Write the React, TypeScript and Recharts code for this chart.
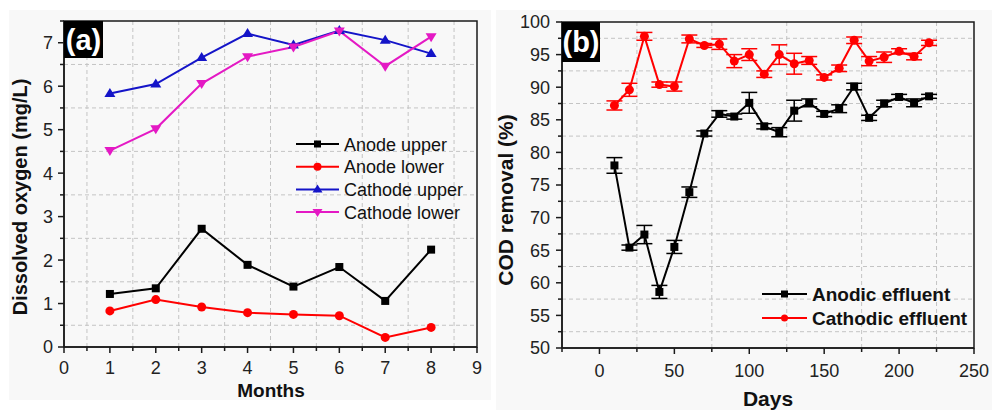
import React from 'react'
import {CartesianGrid, ErrorBar, Line, LineChart, ReferenceArea, XAxis, YAxis} from 'recharts'

// panel (a): dissolved oxygen by month
const months = [1, 2, 3, 4, 5, 6, 7, 8]
const anodeUpper = [1.22, 1.35, 2.72, 1.89, 1.39, 1.84, 1.06, 2.24]
const anodeLower = [0.83, 1.09, 0.92, 0.79, 0.75, 0.72, 0.22, 0.45]
const cathodeUpper = [5.83, 6.05, 6.66, 7.21, 6.95, 7.28, 7.06, 6.75]
const cathodeLower = [4.52, 5.02, 6.06, 6.68, 6.9, 7.27, 6.46, 7.14]

const monthTicks = [0, 0.5, 1, 1.5, 2, 2.5, 3, 3.5, 4, 4.5, 5, 5.5, 6, 6.5, 7, 7.5, 8, 8.5, 9]
const doTicks = [0, 0.5, 1, 1.5, 2, 2.5, 3, 3.5, 4, 4.5, 5, 5.5, 6, 6.5, 7, 7.5]
const monthGrid = [0.5, 1.5, 2.5, 3.5, 4.5, 5.5, 6.5, 7.5, 8.5]
const doGrid = [0.5, 1.5, 2.5, 3.5, 4.5, 5.5, 6.5]

// panel (b): COD removal by day
const days = [10, 20, 30, 40, 50, 60, 70, 80, 90, 100, 110, 120, 130, 140, 150, 160, 170, 180, 190, 200, 210, 220]
const anodic = [78.0, 65.4, 67.4, 58.6, 65.5, 73.9, 82.9, 85.9, 85.5, 87.6, 84.0, 83.1, 86.4, 87.6, 85.9, 86.7, 90.1, 85.3, 87.5, 88.5, 87.6, 88.6]
const anodicErr = [1.2, 0.4, 1.4, 1.0, 1.0, 0.8, 0.4, 0.5, 0.4, 1.6, 0.4, 0.7, 1.6, 0.6, 0.4, 0.6, 0.5, 0.4, 0.5, 0.4, 0.6, 0.3]
const cathodic = [87.2, 89.6, 97.8, 90.4, 90.1, 97.4, 96.4, 96.6, 94.0, 95.0, 92.0, 95.0, 93.6, 94.1, 91.5, 92.9, 97.2, 94.0, 94.6, 95.5, 94.7, 96.8]
const cathodicErr = [0.7, 1.0, 0.6, 0.4, 0.7, 0.6, 0.3, 0.8, 1.0, 0.9, 0.5, 1.5, 1.6, 0.6, 0.4, 0.5, 0.5, 0.7, 0.8, 0.4, 0.5, 0.4]

const dayTicks = [-25, 0, 25, 50, 75, 100, 125, 150, 175, 200, 225, 250]
const codTicks = [50, 52.5, 55, 57.5, 60, 62.5, 65, 67.5, 70, 72.5, 75, 77.5, 80, 82.5, 85, 87.5, 90, 92.5, 95, 97.5, 100]
const dayGrid = [25, 75, 125, 175, 225]
const codGrid = [52.5, 57.5, 62.5, 67.5, 72.5, 77.5, 82.5, 87.5, 92.5, 97.5]

const doData = months.map((m, i) => ({
    m, au: anodeUpper[i], al: anodeLower[i], cu: cathodeUpper[i], cl: cathodeLower[i],
}))
const codData = days.map((d, i) => ({
    d, an: anodic[i], anErr: anodicErr[i], ca: cathodic[i], caErr: cathodicErr[i],
}))

const FONT = '"Liberation Sans", Arial, sans-serif'
const AXIS = '#1a1a1a'
const BLUE = '#1414c8'
const MAGENTA = '#e419c4'
const RED = '#ff0000'
const GRID = '#c4c4c4'

const isMajor = (v: number, step: number) => Math.abs(v / step - Math.round(v / step)) < 1e-6

const makeXTick = (step: number, fontSize: number, dyText: number) => (props: any) => {
    const {x, y, payload, index} = props
    const major = isMajor(payload.value, step)
    return (
        <g key={`xt-${index}`}>
            <line x1={x} y1={y} x2={x} y2={y + (major ? 6 : 4)} stroke={AXIS} strokeWidth={1.5}/>
            {major && (
                <text x={x} y={y + dyText} textAnchor="middle" fontSize={fontSize} fontFamily={FONT} fill="#222">
                    {payload.value}
                </text>
            )}
        </g>
    )
}

const makeYTick = (step: number, fontSize: number, gap: number) => (props: any) => {
    const {x, y, payload, index} = props
    const major = isMajor(payload.value, step)
    return (
        <g key={`yt-${index}`}>
            <line x1={x} y1={y} x2={x - (major ? 6 : 4)} y2={y} stroke={AXIS} strokeWidth={1.5}/>
            {major && (
                <text x={x - gap} y={y + fontSize * 0.36} textAnchor="end" fontSize={fontSize} fontFamily={FONT} fill="#222">
                    {payload.value}
                </text>
            )}
        </g>
    )
}

type Mk = 'square' | 'circle' | 'up' | 'down'

function Marker({cx, cy, kind, color, size}: {cx: number, cy: number, kind: Mk, color: string, size: number}) {
    const h = size / 2
    if (kind === 'square') return <rect x={cx - h} y={cy - h} width={size} height={size} fill={color}/>
    if (kind === 'circle') return <circle cx={cx} cy={cy} r={h} fill={color}/>
    if (kind === 'up') {
        return <polygon points={`${cx},${cy - h - 1} ${cx - h - 1},${cy + h - 1} ${cx + h + 1},${cy + h - 1}`} fill={color}/>
    }
    return <polygon points={`${cx},${cy + h + 1} ${cx - h - 1},${cy - h + 1} ${cx + h + 1},${cy - h + 1}`} fill={color}/>
}

const dotOf = (kind: Mk, color: string, size: number) => (p: any) => (
    <Marker key={`d-${kind}-${p.index}`} cx={p.cx} cy={p.cy} kind={kind} color={color} size={size}/>
)

function PanelA() {
    return (
        <LineChart width={492} height={410} data={doData} margin={{top: 21, right: 15, bottom: 0, left: 0}}>
            <CartesianGrid stroke={GRID} strokeDasharray="4 3" verticalValues={monthGrid} horizontalValues={doGrid}/>
            <ReferenceArea x1={0} x2={9} y1={0} y2={7.5} fill="none" stroke={AXIS} strokeWidth={1.5}/>
            <XAxis dataKey="m" type="number" domain={[0, 9]} ticks={monthTicks} interval={0} height={63}
                   tickSize={0} tickMargin={0} tickLine={false} tick={makeXTick(1, 18, 27)}
                   axisLine={{stroke: AXIS, strokeWidth: 1.5}}/>
            <YAxis type="number" domain={[0, 7.5]} ticks={doTicks} interval={0} width={64}
                   tickSize={0} tickMargin={0} tickLine={false} tick={makeYTick(1, 18, 11)}
                   axisLine={{stroke: AXIS, strokeWidth: 1.5}}/>
            <Line dataKey="au" stroke="#000" strokeWidth={2} isAnimationActive={false} dot={dotOf('square', '#000', 8)}/>
            <Line dataKey="al" stroke={RED} strokeWidth={2} isAnimationActive={false} dot={dotOf('circle', RED, 9)}/>
            <Line dataKey="cu" stroke={BLUE} strokeWidth={2} isAnimationActive={false} dot={dotOf('up', BLUE, 9)}/>
            <Line dataKey="cl" stroke={MAGENTA} strokeWidth={2} isAnimationActive={false} dot={dotOf('down', MAGENTA, 9)}/>
        </LineChart>
    )
}

function PanelB() {
    return (
        <LineChart width={500} height={410} data={codData} margin={{top: 22, right: 18, bottom: 0, left: 0}}>
            <CartesianGrid stroke={GRID} strokeDasharray="4 3" verticalValues={dayGrid} horizontalValues={codGrid}/>
            <ReferenceArea x1={-25} x2={250} y1={50} y2={100} fill="none" stroke={AXIS} strokeWidth={1.5}/>
            <XAxis dataKey="d" type="number" domain={[-25, 250]} ticks={dayTicks} interval={0} height={62}
                   tickSize={0} tickMargin={0} tickLine={false} tick={makeXTick(50, 18, 29)}
                   axisLine={{stroke: AXIS, strokeWidth: 1.5}}/>
            <YAxis type="number" domain={[50, 100]} ticks={codTicks} interval={0} width={70}
                   tickSize={0} tickMargin={0} tickLine={false} tick={makeYTick(5, 18, 12)}
                   axisLine={{stroke: AXIS, strokeWidth: 1.5}}/>
            <Line dataKey="an" stroke="#000" strokeWidth={2} isAnimationActive={false} dot={dotOf('square', '#000', 8)}>
                <ErrorBar dataKey="anErr" direction="y" width={8} stroke="#000" strokeWidth={1.5}/>
            </Line>
            <Line dataKey="ca" stroke={RED} strokeWidth={2} isAnimationActive={false} dot={dotOf('circle', RED, 9)}>
                <ErrorBar dataKey="caErr" direction="y" width={8} stroke={RED} strokeWidth={1.5}/>
            </Line>
        </LineChart>
    )
}

const legendA: {label: string, color: string, kind: Mk}[] = [
    {label: 'Anode upper', color: '#000', kind: 'square'},
    {label: 'Anode lower', color: RED, kind: 'circle'},
    {label: 'Cathode upper', color: BLUE, kind: 'up'},
    {label: 'Cathode lower', color: MAGENTA, kind: 'down'},
]
const legendB: {label: string, color: string, kind: Mk}[] = [
    {label: 'Anodic effluent', color: '#000', kind: 'square'},
    {label: 'Cathodic effluent', color: RED, kind: 'circle'},
]

function Overlay() {
    return (
        <svg width={992} height={410} style={{position: 'absolute', left: 0, top: 0, pointerEvents: 'none'}}
             fontFamily={FONT}>
            {/* panel tags */}
            <rect x={64} y={21} width={39} height={37} fill="#000"/>
            <text x={83.5} y={50} textAnchor="middle" fontSize={29} fontWeight="bold" fill="#fff">(a)</text>
            <rect x={562} y={22} width={38} height={40} fill="#000"/>
            <text x={581} y={52} textAnchor="middle" fontSize={29} fontWeight="bold" fill="#fff">(b)</text>

            {/* axis titles */}
            <text x={0} y={0} transform="translate(27,197) rotate(-90)" textAnchor="middle" fontSize={20}
                  fontWeight="bold" fill="#111">Dissolved oxygen (mg/L)</text>
            <text x={271} y={397} textAnchor="middle" fontSize={19} fontWeight="bold" fill="#111">Months</text>
            <text x={0} y={0} transform="translate(513,200) rotate(-90)" textAnchor="middle" fontSize={21}
                  fontWeight="bold" fill="#111">COD removal (%)</text>
            <text x={768} y={406} textAnchor="middle" fontSize={21} fontWeight="bold" fill="#111">Days</text>

            {/* legends */}
            {legendA.map((l, i) => {
                const cy = 144 + i * 22.7
                return (
                    <g key={l.label}>
                        <line x1={296} y1={cy} x2={339} y2={cy} stroke={l.color} strokeWidth={2}/>
                        <Marker cx={317.5} cy={cy} kind={l.kind} color={l.color} size={l.kind === 'square' ? 7 : 8}/>
                        <text x={344} y={cy + 6.5} fontSize={18} fill="#111">{l.label}</text>
                    </g>
                )
            })}
            {legendB.map((l, i) => {
                const cy = 294 + i * 24
                return (
                    <g key={l.label}>
                        <line x1={762} y1={cy} x2={807} y2={cy} stroke={l.color} strokeWidth={2}/>
                        <Marker cx={784.5} cy={cy} kind={l.kind} color={l.color} size={7}/>
                        <text x={812} y={cy + 7} fontSize={19} fontWeight="bold" fill="#111">{l.label}</text>
                    </g>
                )
            })}
        </svg>
    )
}

export default function App() {
    return (
        <div style={{position: 'absolute', left: 0, top: 0, width: 992, height: 410, background: '#fff', overflow: 'hidden'}}>
            <div style={{position: 'absolute', left: 9, top: 10, width: 482, height: 390, background: '#f8f8f8'}}/>
            <div style={{position: 'absolute', left: 496, top: 10, width: 496, height: 400, background: '#f8f8f8'}}/>
            <div style={{position: 'absolute', left: 0, top: 0}}>
                <PanelA/>
            </div>
            <div style={{position: 'absolute', left: 492, top: 0}}>
                <PanelB/>
            </div>
            <Overlay/>
        </div>
    )
}
